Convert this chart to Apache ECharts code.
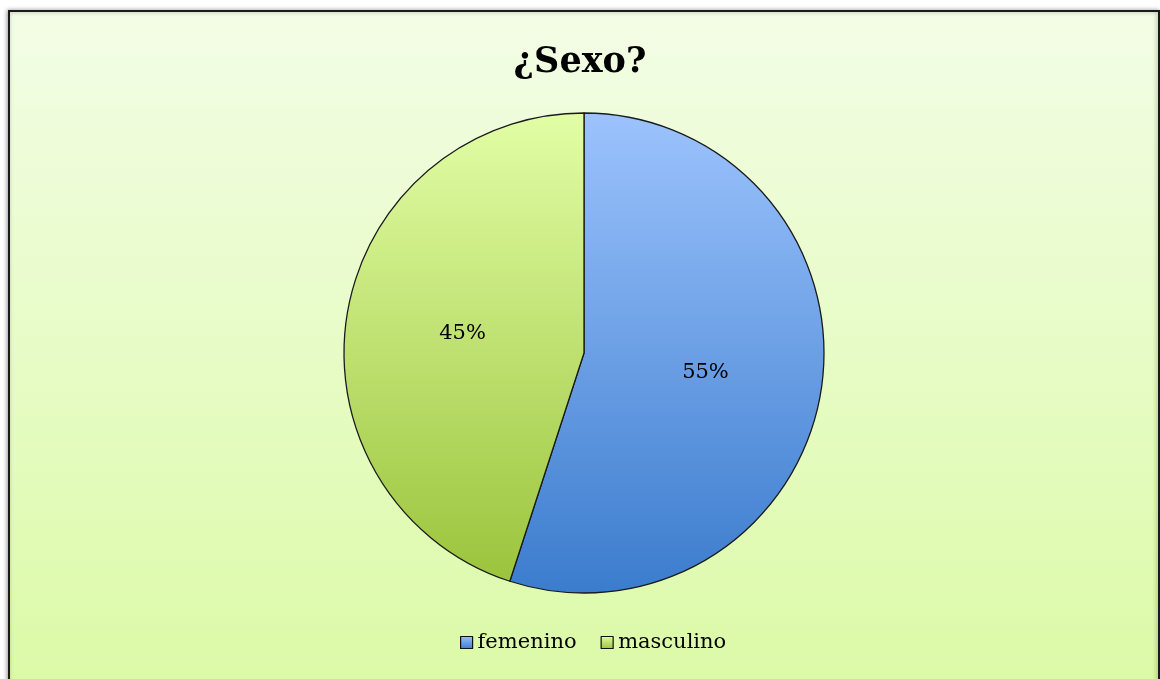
<!DOCTYPE html>
<html><head><meta charset="utf-8">
<script src="https://cdn.jsdelivr.net/npm/echarts@6/dist/echarts.min.js"></script>
<style>html,body{margin:0;padding:0;background:#fff;}#c{width:1160px;height:679px;}</style>
</head><body><div id="c"></div>
<script>
const categories = ['femenino', 'masculino'];
const values = [55, 45];
const title = '¿Sexo?';

const fills = [
  new echarts.graphic.LinearGradient(0, 0, 0, 1, [{offset: 0, color: '#9cc3fd'}, {offset: 1, color: '#3b7ccd'}]),
  new echarts.graphic.LinearGradient(0, 0, 0, 1, [{offset: 0, color: '#e2fea6'}, {offset: 1, color: '#9bc43c'}])
];
const font = '"DejaVu Serif", "Liberation Serif", serif';
const chart = echarts.init(document.getElementById('c'), null, {renderer: 'canvas'});
chart.setOption({
  animation: false,
  backgroundColor: '#ffffff',
  graphic: [{
    type: 'rect', left: 8, top: 10, z: -10,
    shape: {width: 1150, height: 680},
    style: {
      fill: new echarts.graphic.LinearGradient(0, 0, 0, 1, [{offset: 0, color: '#f3fde6'}, {offset: 1, color: '#dbfaa6'}]),
      stroke: '#1a1a1a', lineWidth: 2,
      shadowBlur: 4, shadowColor: 'rgba(0,0,0,0.35)', shadowOffsetX: -1
    }
  }],
  title: {
    text: title, left: 'center', top: 40,
    textStyle: {fontFamily: font, fontWeight: 'bold', fontSize: 35, color: '#000'}
  },
  legend: {
    data: categories, bottom: 21, left: 455,
    itemWidth: 12, itemHeight: 12, itemGap: 24,
    icon: 'rect',
    textStyle: {fontFamily: font, fontSize: 21, color: '#000'},
    itemStyle: {borderColor: '#111', borderWidth: 1.2}
  },
  series: [{
    type: 'pie',
    center: [584, 353], radius: 240,
    startAngle: 90, clockwise: true,
    label: {
      position: 'inner', formatter: '{d}%',
      fontFamily: font, fontSize: 21, color: '#000'
    },
    labelLine: {show: false},
    itemStyle: {borderColor: '#1a1a1a', borderWidth: 1.3},
    emphasis: {disabled: true},
    data: categories.map((n, i) => ({name: n, value: values[i], itemStyle: {color: fills[i]}}))
  }]
});
</script></body></html>
